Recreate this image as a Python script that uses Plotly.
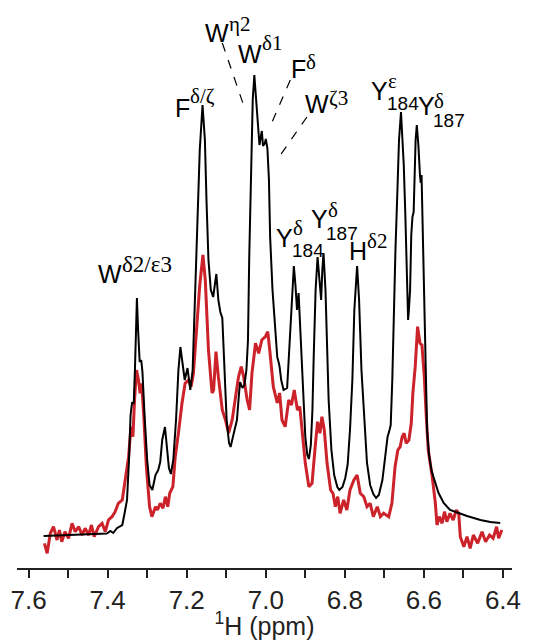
import plotly.graph_objects as go

# ---- data (ppm, intensity a.u.) ----
black_points = [
    (7.562, 32), (7.520, 32.5), (7.469, 33), (7.418, 34), (7.402, 34.5), (7.393, 37), (7.386, 35),
    (7.376, 40), (7.363, 43), (7.358, 53), (7.351, 68), (7.346, 108), (7.342, 153), (7.338, 166),
    (7.334, 164), (7.331, 198), (7.326, 270), (7.323, 238), (7.319, 206), (7.315, 208), (7.312, 196),
    (7.306, 148), (7.300, 108), (7.294, 83), (7.287, 78), (7.279, 93), (7.272, 98), (7.267, 106),
    (7.262, 128), (7.255, 141), (7.250, 123), (7.245, 100), (7.240, 94), (7.234, 108), (7.227, 148),
    (7.221, 198), (7.216, 221), (7.211, 208), (7.205, 188), (7.198, 200), (7.191, 178), (7.185, 198),
    (7.179, 268), (7.174, 348), (7.167, 418), (7.160, 463), (7.154, 428), (7.150, 368), (7.145, 308),
    (7.139, 278), (7.133, 271), (7.129, 283), (7.125, 294), (7.120, 268), (7.115, 256), (7.110, 250),
    (7.105, 198), (7.099, 148), (7.093, 125), (7.089, 121), (7.082, 133), (7.073, 148), (7.068, 173),
    (7.065, 186), (7.059, 180), (7.054, 183), (7.049, 198), (7.045, 228), (7.042, 308), (7.037, 408),
    (7.033, 468), (7.029, 493), (7.025, 473), (7.021, 448), (7.016, 423), (7.013, 430), (7.010, 437),
    (7.007, 422), (7.002, 425), (7.000, 429), (6.996, 420), (6.992, 388), (6.989, 331), (6.983, 278),
    (6.975, 231), (6.971, 211), (6.967, 205), (6.965, 201), (6.961, 188), (6.955, 178), (6.946, 180),
    (6.942, 208), (6.938, 248), (6.933, 283), (6.929, 302), (6.925, 283), (6.921, 258), (6.917, 275),
    (6.913, 243), (6.908, 205), (6.904, 163), (6.900, 131), (6.895, 113), (6.891, 109), (6.886, 123),
    (6.882, 158), (6.879, 208), (6.874, 278), (6.869, 311), (6.865, 293), (6.860, 268), (6.857, 298),
    (6.854, 315), (6.849, 278), (6.845, 221), (6.841, 168), (6.834, 118), (6.827, 93), (6.819, 81),
    (6.814, 78), (6.806, 81), (6.799, 90), (6.793, 103), (6.787, 138), (6.781, 188), (6.776, 258),
    (6.769, 302), (6.764, 268), (6.758, 198), (6.750, 138), (6.744, 105), (6.736, 83), (6.728, 74),
    (6.721, 70), (6.714, 73), (6.705, 88), (6.698, 113), (6.692, 131), (6.687, 138), (6.684, 143),
    (6.680, 188), (6.676, 258), (6.672, 318), (6.667, 378), (6.663, 428), (6.658, 456), (6.655, 438),
    (6.651, 403), (6.647, 353), (6.644, 303), (6.640, 248), (6.638, 258), (6.635, 278), (6.632, 333),
    (6.629, 351), (6.626, 356), (6.623, 398), (6.621, 428), (6.618, 443), (6.614, 423), (6.610, 393),
    (6.608, 385), (6.606, 393), (6.603, 338), (6.599, 268), (6.595, 188), (6.592, 138), (6.587, 113),
    (6.581, 98), (6.575, 90), (6.563, 75), (6.550, 65), (6.534, 58), (6.512, 55), (6.491, 52),
    (6.457, 48), (6.432, 46), (6.407, 45),
]

red_points = [
    (7.560, 24.7), (7.553, 14.7), (7.545, 34.7), (7.537, 41.3), (7.528, 28), (7.522, 38), (7.516, 26.3),
    (7.508, 36.3), (7.499, 29.7), (7.490, 44.7), (7.482, 36.3), (7.473, 41.3), (7.465, 33), (7.457, 39.7),
    (7.448, 33), (7.441, 43), (7.434, 31.3), (7.423, 41.3), (7.414, 44.7), (7.406, 36.3), (7.398, 48),
    (7.389, 51.3), (7.381, 56.3), (7.373, 64.7), (7.363, 68), (7.355, 88), (7.347, 111.3), (7.341, 141.3),
    (7.336, 131.3), (7.332, 168), (7.327, 198), (7.322, 188), (7.318, 174.7), (7.314, 184.7),
    (7.309, 154.7), (7.302, 101.3), (7.294, 61.3), (7.288, 51.3), (7.279, 61.3), (7.274, 58),
    (7.267, 64.7), (7.260, 59.7), (7.254, 71.3), (7.248, 61.3), (7.243, 74.7), (7.235, 81.3),
    (7.229, 111.3), (7.220, 138), (7.212, 164.7), (7.204, 184.7), (7.195, 188), (7.189, 181.3),
    (7.183, 194.7), (7.174, 244.7), (7.167, 283), (7.159, 313), (7.153, 288), (7.145, 218), (7.136, 175),
    (7.132, 178), (7.126, 216.3), (7.120, 191.3), (7.110, 158), (7.102, 148), (7.094, 135), (7.085, 148),
    (7.077, 168), (7.069, 191.3), (7.062, 201.3), (7.056, 191.3), (7.047, 168), (7.041, 158),
    (7.035, 194.7), (7.026, 224.7), (7.018, 214.7), (7.010, 228), (7.001, 231.3), (6.995, 236.3),
    (6.990, 218), (6.981, 181.3), (6.971, 165), (6.965, 175), (6.959, 148), (6.951, 141.3), (6.942, 168),
    (6.935, 163), (6.928, 178), (6.920, 158), (6.914, 161.3), (6.908, 138), (6.900, 104.7), (6.891, 81.3),
    (6.883, 84.7), (6.875, 121.3), (6.869, 146.3), (6.863, 134.7), (6.858, 151.3), (6.852, 138),
    (6.845, 104.7), (6.836, 78), (6.830, 74.7), (6.824, 61.3), (6.818, 71.3), (6.812, 54.7), (6.803, 68),
    (6.795, 58), (6.787, 78), (6.777, 88), (6.769, 93), (6.761, 74.7), (6.752, 71.3), (6.744, 61.3),
    (6.736, 64.7), (6.728, 51.3), (6.718, 61.3), (6.710, 51.3), (6.702, 54.7), (6.689, 51.3),
    (6.681, 64.7), (6.673, 101.3), (6.666, 118), (6.660, 121.3), (6.655, 131.3), (6.650, 134.7),
    (6.645, 124.7), (6.638, 128), (6.632, 144.7), (6.628, 174.7), (6.622, 201.3), (6.616, 241.3),
    (6.610, 224.7), (6.605, 223), (6.599, 191.3), (6.594, 151.3), (6.589, 118), (6.579, 91.3),
    (6.571, 64.7), (6.567, 43), (6.561, 51.3), (6.554, 44.7), (6.548, 56.3), (6.542, 46.3), (6.534, 54.7),
    (6.526, 48), (6.518, 58), (6.512, 54.7), (6.508, 31.3), (6.499, 21.3), (6.491, 31.3), (6.483, 19.7),
    (6.475, 33), (6.464, 24.7), (6.453, 36.3), (6.444, 26.3), (6.434, 33), (6.425, 29.7), (6.416, 41.3),
    (6.411, 29.7), (6.403, 38),
]

major_ticks = [7.6, 7.4, 7.2, 7.0, 6.8, 6.6, 6.4]
minor_ticks = [7.5, 7.3, 7.1, 6.9, 6.7, 6.5]

black_x = [p[0] for p in black_points]
black_y = [p[1] for p in black_points]
red_x = [p[0] for p in red_points]
red_y = [p[1] for p in red_points]

SANS = "Liberation Sans Narrow, Liberation Sans, Arial, sans-serif"
SERIF = "Liberation Serif"

fig = go.Figure()
fig.add_trace(go.Scatter(x=red_x, y=red_y, mode="lines",
                         line=dict(color="rgb(204,34,42)", width=3), hoverinfo="skip"))
fig.add_trace(go.Scatter(x=black_x, y=black_y, mode="lines",
                         line=dict(color="black", width=2), hoverinfo="skip"))

# label pieces: (text, x ppm of left edge, baseline intensity, kind)
label_pieces = [
    ("W", 7.427, 285, "base"), ("δ2/ε3", 7.366, 296, "supw"),
    ("F", 7.233, 451, "base"), ("δ/ζ", 7.195, 465, "sup"),
    ("W", 7.156, 526, "base"), ("η2", 7.095, 537, "sup"),
    ("W", 7.072, 505, "base"), ("δ1", 7.011, 518, "sup"),
    ("F", 6.938, 490, "base"), ("δ", 6.901, 499, "sup"),
    ("W", 6.903, 455, "base"), ("ζ3", 6.842, 463, "sup"),
    ("Y", 6.976, 321, "base"), ("δ", 6.934, 333, "sup"), ("184", 6.937, 311, "sub"),
    ("Y", 6.887, 340, "base"), ("δ", 6.845, 351, "sup"), ("187", 6.850, 328, "sub"),
    ("H", 6.791, 308, "base"), ("δ2", 6.747, 320, "sup"),
    ("Y", 6.736, 468, "base"), ("ε", 6.694, 480, "sup"), ("184", 6.697, 458, "sub"),
    ("Y", 6.618, 453, "base"), ("δ", 6.576, 460, "sup"), ("187", 6.579, 441, "sub"),
]
fonts = {
    "base": dict(family=SANS, size=25, color="black"),
    "sup": dict(family=SERIF, size=21, color="black"),
    "supw": dict(family=SERIF, size=23, color="black"),
    "sub": dict(family=SANS, size=19, color="black"),
}
descent = {"base": 0.21 * 25 + 1, "sup": 0.22 * 21 + 1, "supw": 0.22 * 23 + 1, "sub": 0.21 * 19 + 1}
for text, x, yb, kind in label_pieces:
    fig.add_annotation(x=x, y=yb - descent[kind], xref="x", yref="y", text=text,
                       showarrow=False, xanchor="left", yanchor="bottom",
                       font=fonts[kind], borderpad=0)

# dashed leader lines (ppm, intensity)
leaders = [
    ((7.110, 525), (7.052, 458)),
    ((6.938, 488), (6.984, 446)),
    ((6.896, 451), (6.963, 413)),
]
for (x0, y0), (x1, y1) in leaders:
    fig.add_shape(type="line", xref="x", yref="y", x0=x0, y0=y0, x1=x1, y1=y1,
                  line=dict(color="black", width=1.2, dash="dash"))

fig.update_layout(
    width=543, height=640,
    margin=dict(l=17, r=31, t=0, b=72),
    paper_bgcolor="white", plot_bgcolor="white",
    showlegend=False,
    xaxis=dict(
        range=[7.6293, 6.3772], tickvals=major_ticks, tickformat=".1f",
        ticks="outside", ticklen=8, tickwidth=2, tickcolor="#222",
        minor=dict(tickvals=minor_ticks, ticks="outside", ticklen=8, tickwidth=2, tickcolor="#222",
                   showgrid=False),
        showline=True, linewidth=2, linecolor="#222",
        showgrid=False, zeroline=False,
        tickfont=dict(family=SANS, size=26, color="#222"),
        title=dict(text="<sup>1</sup>H (ppm)", font=dict(family=SANS, size=25, color="#222"),
                   standoff=4),
    ),
    yaxis=dict(visible=False, range=[0, 568]),
)

fig.write_html("out.html")
